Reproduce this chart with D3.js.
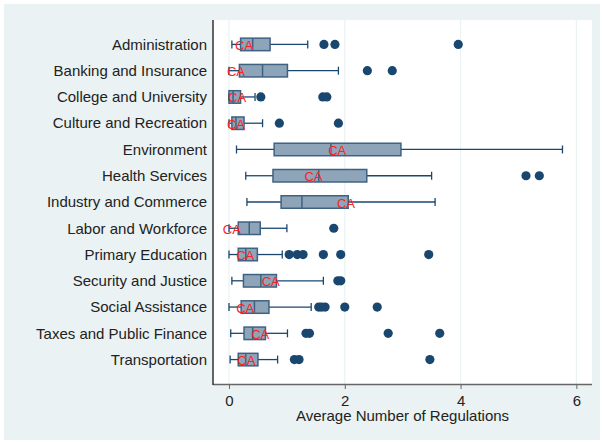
<!DOCTYPE html>
<html><head><meta charset="utf-8">
<script src="https://cdn.jsdelivr.net/npm/d3@7"></script>
<style>body{margin:0;background:#fff}svg{display:block}</style>
</head><body>
<svg id="c" width="602" height="442"></svg>
<script>
const categories = ["Administration","Banking and Insurance","College and University","Culture and Recreation","Environment","Health Services","Industry and Commerce","Labor and Workforce","Primary Education","Security and Justice","Social Assistance","Taxes and Public Finance","Transportation"];
// [whiskerLow, q1, median, q3, whiskerHigh]
const boxStats = [
  [0.05,0.20,0.41,0.71,1.36],
  [0.00,0.18,0.58,1.01,1.89],
  [0.00,0.00,0.07,0.20,0.45],
  [0.00,0.05,0.12,0.26,0.58],
  [0.13,0.78,1.76,2.97,5.76],
  [0.29,0.76,1.55,2.38,3.50],
  [0.31,0.90,1.26,2.06,3.56],
  [0.00,0.16,0.35,0.54,1.00],
  [0.00,0.16,0.29,0.49,0.92],
  [0.05,0.25,0.55,0.82,1.63],
  [0.00,0.21,0.44,0.69,1.42],
  [0.03,0.26,0.41,0.63,1.01],
  [0.02,0.16,0.29,0.50,0.84]
];
const outliers = [
  [1.64,1.83,3.96],
  [2.39,2.82],
  [0.55,1.62,1.69],
  [0.87,1.89],
  [],
  [5.13,5.36],
  [],
  [1.81],
  [1.04,1.18,1.28,1.63,1.93,3.45],
  [1.88,1.93],
  [1.55,1.60,1.66,2.00,2.56],
  [1.33,1.39,2.75,3.64],
  [1.13,1.21,3.47]
];
const caValues = [0.26,0.12,0.14,0.12,1.87,1.46,2.02,0.05,0.28,0.72,0.28,0.54,0.30];
const xTicks = [0,2,4,6];
const xTitle = "Average Number of Regulations";

const svg = d3.select("#c");
const L = 213, R = 592, T = 20, B = 384;
const font = "'Liberation Sans', Arial, sans-serif";
const dark = "#1a476f";

svg.append("rect").attr("x",4).attr("y",4).attr("width",596).attr("height",436).attr("fill","#eaf2f3");
svg.append("rect").attr("x",L).attr("y",T).attr("width",R-L).attr("height",B-T).attr("fill","#fff");

const x = d3.scaleLinear().domain([-0.276, 6.27]).range([L, R]);
const y = d3.scalePoint().domain(categories).range([T, B]).padding(0.93);

// gridlines
svg.append("g").selectAll("line").data(xTicks).join("line")
  .attr("x1",d=>x(d)).attr("x2",d=>x(d)).attr("y1",T).attr("y2",B)
  .attr("stroke","#eaf2f3").attr("stroke-width",1.2);

// x axis
const xa = svg.append("g").attr("transform",`translate(0,${B})`)
  .call(d3.axisBottom(x).tickValues(xTicks).tickSize(5).tickPadding(6).tickFormat(d3.format("d")));
xa.select(".domain").attr("stroke","#666").attr("stroke-width",1.5).attr("d",`M${L},0.5H${R}`);
xa.selectAll(".tick line").attr("stroke","#666");
xa.selectAll(".tick text").attr("font-family",font).attr("font-size",15).attr("fill","#222");

svg.append("text").attr("x",(L+R)/2).attr("y",421).attr("text-anchor","middle")
  .attr("font-family",font).attr("font-size",15).attr("fill","#222").text(xTitle);

// y axis line
svg.append("line").attr("x1",L).attr("x2",L).attr("y1",T).attr("y2",B+1).attr("stroke","#333").attr("stroke-width",1.5);

// category labels
svg.append("g").selectAll("text").data(categories).join("text")
  .attr("x",207).attr("y",d=>y(d)).attr("dy","0.35em").attr("text-anchor","end")
  .attr("font-family",font).attr("font-size",15).attr("fill","#222").text(d=>d);

const bh = 12.5, ch = 8;
const g = svg.append("g");
categories.forEach((c,i)=>{
  const s = boxStats[i], cy = y(c);
  const row = g.append("g");
  row.append("line").attr("x1",x(s[0])).attr("x2",x(s[1])).attr("y1",cy).attr("y2",cy).attr("stroke",dark).attr("stroke-width",1.3);
  row.append("line").attr("x1",x(s[3])).attr("x2",x(s[4])).attr("y1",cy).attr("y2",cy).attr("stroke",dark).attr("stroke-width",1.3);
  [s[0],s[4]].forEach(v=>row.append("line").attr("x1",x(v)).attr("x2",x(v)).attr("y1",cy-ch/2).attr("y2",cy+ch/2).attr("stroke",dark).attr("stroke-width",1.3));
  row.append("rect").attr("x",x(s[1])).attr("y",cy-bh/2).attr("width",x(s[3])-x(s[1])).attr("height",bh)
    .attr("fill","#8ea4b9").attr("stroke","#3f6283").attr("stroke-width",1.5);
  row.append("line").attr("x1",x(s[2])).attr("x2",x(s[2])).attr("y1",cy-bh/2).attr("y2",cy+bh/2).attr("stroke","#3f6283").attr("stroke-width",1.5);
  row.selectAll("circle").data(outliers[i]).join("circle")
    .attr("cx",d=>x(d)).attr("cy",cy).attr("r",4.6).attr("fill",dark);
  row.append("text").attr("x",x(caValues[i])).attr("y",cy+5.5).attr("text-anchor","middle")
    .attr("font-family",font).attr("font-size",13).attr("fill","#ff2020").text("CA");
});
</script>
</body></html>
